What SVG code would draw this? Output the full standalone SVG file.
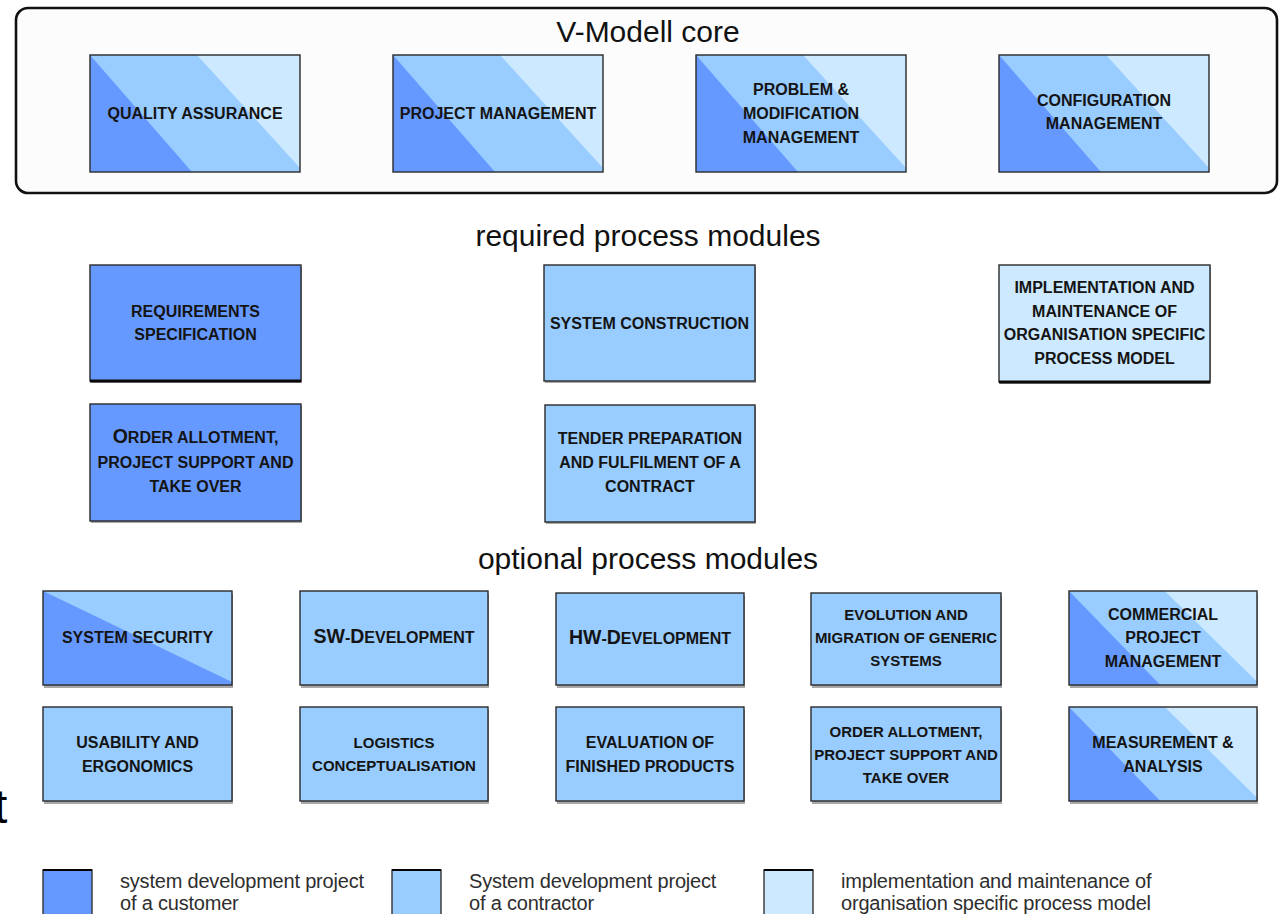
<svg xmlns="http://www.w3.org/2000/svg" xmlns:xlink="http://www.w3.org/1999/xlink" width="1279" height="914" viewBox="0 0 1279 914">
  <style>
    .dk { fill: #6699ff; }
    .md { fill: #99ccff; }
    .lt { fill: #cce9ff; }
    .frame { fill: none; stroke: #2a2a2a; stroke-width: 1.4; }
    .shadow { fill: #a8a8a8; }
    .heavy { stroke: #0a0a0a; stroke-width: 3; }
    .lbl { font-family: "Liberation Sans", Arial, Helvetica, sans-serif; font-weight: bold; font-size: 16px; fill: #141414; text-anchor: middle; }
    .sm { font-size: 15px; }
    .big { font-size: 19.5px; }
    .title { font-family: "Liberation Sans", Arial, Helvetica, sans-serif; font-size: 30px; fill: #111; text-anchor: middle; }
    .leg { font-family: "Liberation Sans", Arial, Helvetica, sans-serif; font-size: 20px; fill: #2e2e2e; letter-spacing: -0.2px; }
    .core { fill: #fcfcfc; stroke: #111; stroke-width: 2.6; }
  </style>
  <defs>
    <!-- three diagonal bands: customer / contractor / organisation -->
    <symbol id="bands3" viewBox="0 0 210 117" preserveAspectRatio="none">
      <polygon class="md" points="0,0 210,0 210,117 0,117"/>
      <polygon class="dk" points="0,0 102,117 0,117"/>
      <polygon class="lt" points="107,0 210,0 210,113"/>
    </symbol>
    <!-- two diagonal bands: customer / contractor -->
    <symbol id="bands2" viewBox="0 0 188 94" preserveAspectRatio="none">
      <polygon class="md" points="0,0 188,0 188,94 0,94"/>
      <polygon class="dk" points="0,0 188,91 188,94 0,94"/>
    </symbol>
  </defs>

  <rect width="1279" height="914" fill="#ffffff"/>

  <!-- core container -->
  <g id="core">
    <rect class="core" x="16" y="8" width="1261" height="185" rx="12" ry="12"/>
    <text class="title" x="648" y="42">V-Modell core</text>
  </g>

  <g id="quality-assurance">
    <use xlink:href="#bands3" x="90" y="55" width="210" height="117"/>
    <rect class="frame" x="90" y="55" width="210" height="117"/>
    <text class="lbl" x="195" y="119">QUALITY ASSURANCE</text>
  </g>
  <g id="project-management">
    <use xlink:href="#bands3" x="393" y="55" width="210" height="117"/>
    <rect class="frame" x="393" y="55" width="210" height="117"/>
    <text class="lbl" x="498" y="119">PROJECT MANAGEMENT</text>
  </g>
  <g id="problem-modification">
    <use xlink:href="#bands3" x="696" y="55" width="210" height="117"/>
    <rect class="frame" x="696" y="55" width="210" height="117"/>
    <text class="lbl" x="801" y="95">PROBLEM &amp;</text>
    <text class="lbl" x="801" y="119">MODIFICATION</text>
    <text class="lbl" x="801" y="143">MANAGEMENT</text>
  </g>
  <g id="configuration-management">
    <use xlink:href="#bands3" x="999" y="55" width="210" height="117"/>
    <rect class="frame" x="999" y="55" width="210" height="117"/>
    <text class="lbl" x="1104" y="106">CONFIGURATION</text>
    <text class="lbl" x="1104" y="129">MANAGEMENT</text>
  </g>

  <!-- required process modules -->
  <text class="title" x="648" y="246">required process modules</text>

  <g id="requirements-specification">
    <rect class="shadow" x="91" y="267" width="211" height="116"/>
    <rect class="dk" x="90" y="265" width="211" height="116"/>
    <rect class="frame" x="90" y="265" width="211" height="116"/>
    <line class="heavy" x1="90" y1="381" x2="301" y2="381"/>
    <text class="lbl" x="195.5" y="317">REQUIREMENTS</text>
    <text class="lbl" x="195.5" y="340">SPECIFICATION</text>
  </g>
  <g id="system-construction">
    <rect class="shadow" x="545" y="267" width="211" height="116"/>
    <rect class="md" x="544" y="265" width="211" height="116"/>
    <rect class="frame" x="544" y="265" width="211" height="116"/>
    <text class="lbl" x="649.5" y="329">SYSTEM CONSTRUCTION</text>
  </g>
  <g id="implementation-maintenance">
    <rect class="shadow" x="1000" y="267" width="211" height="117"/>
    <rect class="lt" x="999" y="265" width="211" height="117"/>
    <rect class="frame" x="999" y="265" width="211" height="117"/>
    <line class="heavy" x1="999" y1="382" x2="1210" y2="382"/>
    <text class="lbl" x="1104.5" y="293">IMPLEMENTATION AND</text>
    <text class="lbl" x="1104.5" y="317">MAINTENANCE OF</text>
    <text class="lbl" x="1104.5" y="340">ORGANISATION SPECIFIC</text>
    <text class="lbl" x="1104.5" y="364">PROCESS MODEL</text>
  </g>
  <g id="order-allotment-required">
    <rect class="shadow" x="91" y="406" width="211" height="117"/>
    <rect class="dk" x="90" y="404" width="211" height="117"/>
    <rect class="frame" x="90" y="404" width="211" height="117"/>
    <text class="lbl" x="195.5" y="443"><tspan class="big">O</tspan>RDER ALLOTMENT,</text>
    <text class="lbl" x="195.5" y="468">PROJECT SUPPORT AND</text>
    <text class="lbl" x="195.5" y="492">TAKE OVER</text>
  </g>
  <g id="tender-preparation">
    <rect class="shadow" x="546" y="407" width="210" height="117"/>
    <rect class="md" x="545" y="405" width="210" height="117"/>
    <rect class="frame" x="545" y="405" width="210" height="117"/>
    <text class="lbl" x="650" y="444">TENDER PREPARATION</text>
    <text class="lbl" x="650" y="468">AND FULFILMENT OF A</text>
    <text class="lbl" x="650" y="492">CONTRACT</text>
  </g>

  <!-- optional process modules -->
  <text class="title" x="648" y="569">optional process modules</text>

  <g id="system-security">
    <rect class="shadow" x="44" y="594" width="189" height="94"/>
    <use xlink:href="#bands2" x="43" y="591" width="189" height="94"/>
    <rect class="frame" x="43" y="591" width="189" height="94"/>
    <text class="lbl" x="137.5" y="643">SYSTEM SECURITY</text>
  </g>
  <g id="sw-development">
    <rect class="shadow" x="301" y="594" width="188" height="94"/>
    <rect class="md" x="300" y="591" width="188" height="94"/>
    <rect class="frame" x="300" y="591" width="188" height="94"/>
    <text class="lbl" x="394" y="643"><tspan class="big">SW</tspan>-<tspan class="big">D</tspan>EVELOPMENT</text>
  </g>
  <g id="hw-development">
    <rect class="shadow" x="557" y="596" width="188" height="92"/>
    <rect class="md" x="556" y="593" width="188" height="92"/>
    <rect class="frame" x="556" y="593" width="188" height="92"/>
    <text class="lbl" x="650" y="644"><tspan class="big">HW</tspan>-<tspan class="big">D</tspan>EVELOPMENT</text>
  </g>
  <g id="evolution-migration">
    <rect class="shadow" x="812" y="596" width="190" height="92"/>
    <rect class="md" x="811" y="593" width="190" height="92"/>
    <rect class="frame" x="811" y="593" width="190" height="92"/>
    <text class="lbl sm" x="906" y="620">EVOLUTION AND</text>
    <text class="lbl sm" x="906" y="643">MIGRATION OF GENERIC</text>
    <text class="lbl sm" x="906" y="666">SYSTEMS</text>
  </g>
  <g id="commercial-project-management">
    <rect class="shadow" x="1070" y="594" width="188" height="94"/>
    <use xlink:href="#bands3" x="1069" y="591" width="188" height="94"/>
    <rect class="frame" x="1069" y="591" width="188" height="94"/>
    <text class="lbl" x="1163" y="620">COMMERCIAL</text>
    <text class="lbl" x="1163" y="643">PROJECT</text>
    <text class="lbl" x="1163" y="667">MANAGEMENT</text>
  </g>

  <g id="usability-ergonomics">
    <rect class="shadow" x="44" y="710" width="189" height="94"/>
    <rect class="md" x="43" y="707" width="189" height="94"/>
    <rect class="frame" x="43" y="707" width="189" height="94"/>
    <text class="lbl" x="137.5" y="748">USABILITY AND</text>
    <text class="lbl" x="137.5" y="772">ERGONOMICS</text>
  </g>
  <g id="logistics-conceptualisation">
    <rect class="shadow" x="301" y="710" width="188" height="94"/>
    <rect class="md" x="300" y="707" width="188" height="94"/>
    <rect class="frame" x="300" y="707" width="188" height="94"/>
    <text class="lbl sm" x="394" y="748">LOGISTICS</text>
    <text class="lbl sm" x="394" y="771">CONCEPTUALISATION</text>
  </g>
  <g id="evaluation-finished-products">
    <rect class="shadow" x="557" y="710" width="188" height="94"/>
    <rect class="md" x="556" y="707" width="188" height="94"/>
    <rect class="frame" x="556" y="707" width="188" height="94"/>
    <text class="lbl" x="650" y="748">EVALUATION OF</text>
    <text class="lbl" x="650" y="772">FINISHED PRODUCTS</text>
  </g>
  <g id="order-allotment-optional">
    <rect class="shadow" x="812" y="710" width="190" height="94"/>
    <rect class="md" x="811" y="707" width="190" height="94"/>
    <rect class="frame" x="811" y="707" width="190" height="94"/>
    <text class="lbl sm" x="906" y="737">ORDER ALLOTMENT,</text>
    <text class="lbl sm" x="906" y="760">PROJECT SUPPORT AND</text>
    <text class="lbl sm" x="906" y="783">TAKE OVER</text>
  </g>
  <g id="measurement-analysis">
    <rect class="shadow" x="1070" y="710" width="188" height="94"/>
    <use xlink:href="#bands3" x="1069" y="707" width="188" height="94"/>
    <rect class="frame" x="1069" y="707" width="188" height="94"/>
    <text class="lbl" x="1163" y="748">MEASUREMENT &amp;</text>
    <text class="lbl" x="1163" y="772">ANALYSIS</text>
  </g>

  <!-- clipped letter at the left margin -->
  <text x="-6" y="823" font-family="Liberation Sans, Arial, sans-serif" font-size="48" fill="#000">t</text>

  <!-- legend -->
  <g id="legend">
    <rect class="dk" x="43" y="870" width="49" height="50" stroke="#333" stroke-width="1.4"/>
    <line x1="43" y1="870" x2="92" y2="870" stroke="#000" stroke-width="2"/>
    <text class="leg" x="120" y="888">system development project</text>
    <text class="leg" x="120" y="910">of a customer</text>

    <rect class="md" x="392" y="870" width="49" height="50" stroke="#333" stroke-width="1.4"/>
    <line x1="392" y1="870" x2="441" y2="870" stroke="#000" stroke-width="2"/>
    <text class="leg" x="469" y="888">System development project</text>
    <text class="leg" x="469" y="910">of a contractor</text>

    <rect class="lt" x="764" y="870" width="49" height="50" stroke="#333" stroke-width="1.4"/>
    <line x1="764" y1="870" x2="813" y2="870" stroke="#000" stroke-width="2"/>
    <text class="leg" x="841" y="888">implementation and maintenance of</text>
    <text class="leg" x="841" y="910">organisation specific process model</text>
  </g>
</svg>
